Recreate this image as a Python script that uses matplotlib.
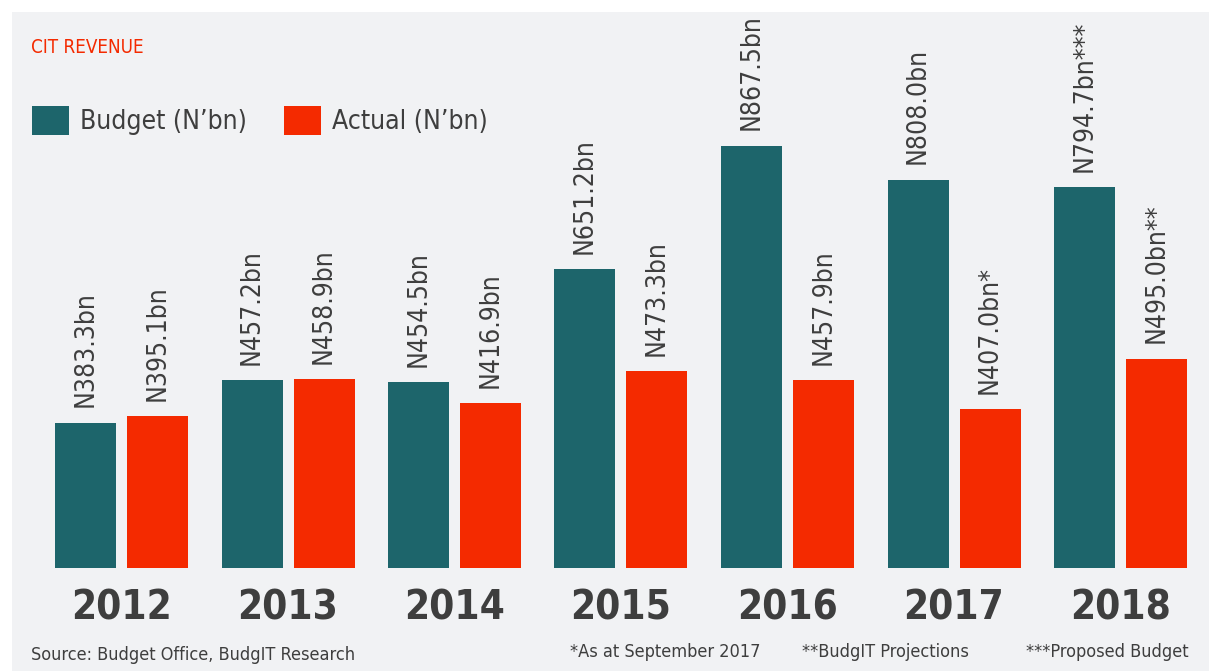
import matplotlib
matplotlib.use('Agg')
import matplotlib.pyplot as plt
from matplotlib.patches import Rectangle
import numpy as np

years = ['2012', '2013', '2014', '2015', '2016', '2017', '2018']
budget = [383.3, 457.2, 454.5, 651.2, 867.5, 808.0, 794.7]
actual = [395.1, 458.9, 416.9, 473.3, 457.9, 407.0, 495.0]
budget_marks = ['', '', '', '', '', '', '***']
actual_marks = ['', '', '', '', '', '*', '**']
footnotes = ['*As at September 2017', '**BudgIT Projections', '***Proposed Budget']

TEAL = '#1d656b'
RED = '#f42a00'
PANEL = '#f1f2f4'
INK = '#3e3e3e'

plt.rcParams['font.family'] = ['Liberation Sans Narrow', 'DejaVu Sans']
plt.rcParams['font.stretch'] = 'condensed'

W, H = 1209, 671
fig = plt.figure(figsize=(W / 100, H / 100), dpi=100)
fig.patch.set_facecolor('white')
fig.patches.append(Rectangle((12 / W, 0), 1 - 12 / W, 1 - 12 / H,
                             transform=fig.transFigure, facecolor=PANEL,
                             edgecolor='none', zorder=-5))

# axes fills the panel, baseline at y=568px
base = (H - 568) / H
ax = fig.add_axes([0, base, 1, 1 - base])
ax.set_facecolor('none')
ax.set_zorder(2)
ymin = 129.4
ax.set_ylim(ymin, ymin + 568 / 0.5723)
ax.set_xlim(-121.5 / 166.5, (W - 121.5) / 166.5)

x = np.arange(len(years))
w = 61 / 166.5
off = 36 / 166.5
b1 = ax.bar(x - off, [v - ymin for v in budget], w, bottom=ymin, color=TEAL, label='Budget (N\u2019bn)')
b2 = ax.bar(x + off, [v - ymin for v in actual], w, bottom=ymin, color=RED, label='Actual (N\u2019bn)')

for xi, v, m in zip(x - off, budget, budget_marks):
    ax.annotate('N{:.1f}bn{}'.format(v, m), (xi, v), xytext=(0, 11), textcoords='offset points',
                rotation=90, ha='center', va='bottom', fontsize=19, color=INK, annotation_clip=False)
for xi, v, m in zip(x + off, actual, actual_marks):
    ax.annotate('N{:.1f}bn{}'.format(v, m), (xi, v), xytext=(0, 11), textcoords='offset points',
                rotation=90, ha='center', va='bottom', fontsize=19, color=INK, annotation_clip=False)

ax.set_xticks(x, years, fontsize=29, fontweight='bold', color=INK)
ax.tick_params(axis='x', length=0, pad=15)
ax.set_yticks([])
for s in ax.spines.values():
    s.set_visible(False)

fig.text(31 / W, 1 - 53 / H, 'CIT REVENUE', color=RED, fontsize=13.5, va='baseline')

ax.legend(handles=[b1, b2], loc='upper left', bbox_to_anchor=(32 / W, 1 - 106 / H),
          bbox_transform=fig.transFigure, ncol=2, frameon=False, fontsize=19,
          labelcolor=INK, handlelength=1.4, handleheight=1.33, handletextpad=0.42,
          columnspacing=1.4, borderpad=0, borderaxespad=0)

fig.text(31 / W, 1 - 660 / H, 'Source: Budget Office, BudgIT Research', color=INK, fontsize=13, va='baseline')
fig.text(570 / W, 1 - 657 / H, footnotes[0], color=INK, fontsize=13, va='baseline')
fig.text(802 / W, 1 - 657 / H, footnotes[1], color=INK, fontsize=13, va='baseline')
fig.text(1189 / W, 1 - 657 / H, footnotes[2], color=INK, fontsize=13, va='baseline', ha='right')

fig.savefig('out.png', dpi=100)
